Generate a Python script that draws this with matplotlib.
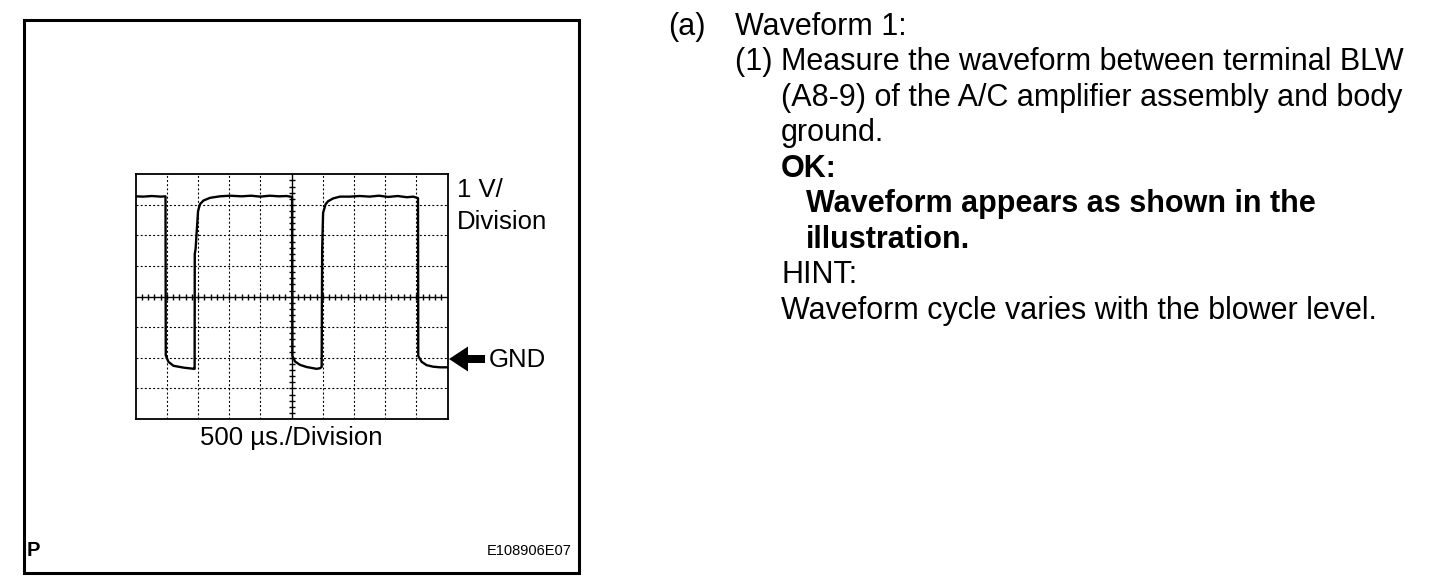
import matplotlib
matplotlib.use("Agg")
import matplotlib.pyplot as plt
from matplotlib.patches import Rectangle, FancyArrow
from matplotlib.transforms import Affine2D

# waveform: time in microseconds, level in volts (GND = 0)
time_us = [0, 120, 260, 400, 478, 482, 525, 605, 765, 935, 945, 947, 960, 1000,
           1030, 1085, 1190, 1350, 1510, 1700, 1850, 2000, 2150, 2300, 2420, 2508,
           2512, 2555, 2635, 2740, 2900, 2955, 2982, 2990, 3005, 3045, 3085, 3165,
           3275, 3435, 3595, 3750, 3900, 4050, 4200, 4350, 4450, 4527, 4531, 4585,
           4665, 4770, 4880, 5000]
volts = [5.28, 5.27, 5.29, 5.27, 5.28, 0.08, -0.13, -0.26, -0.32, -0.36, -0.36, 3.40,
         3.55, 4.80, 5.02, 5.14, 5.23, 5.28, 5.30, 5.28, 5.30, 5.27, 5.30, 5.28, 5.29,
         5.26, 0.06, -0.12, -0.23, -0.30, -0.36, -0.34, -0.30, 3.54, 4.74, 5.02, 5.12,
         5.21, 5.27, 5.27, 5.29, 5.27, 5.30, 5.26, 5.29, 5.25, 5.27, 5.22, 0.06, -0.13,
         -0.24, -0.29, -0.31, -0.31]

t_div = 500      # us per division
v_div = 1        # V per division
n_tdiv = 10
v_min, v_max = -2, 6
centre_t = 2500
centre_v = 2

right_lines = [
    ("(a)", 668, 27, "normal"),
    ("Waveform 1:", 735, 27, "normal"),
    ("(1) Measure the waveform between terminal BLW", 735, 62, "normal"),
    ("(A8-9) of the A/C amplifier assembly and body", 781, 98, "normal"),
    ("ground.", 781, 133, "normal"),
    ("OK:", 781, 169, "bold"),
    ("Waveform appears as shown in the", 806, 204, "bold"),
    ("illustration.", 806, 240, "bold"),
    ("HINT:", 781, 275, "normal"),
    ("Waveform cycle varies with the blower level.", 781, 311, "normal"),
]

W, H = 1456, 586
plt.rcParams["font.family"] = ["Liberation Sans", "DejaVu Sans"]
plt.rcParams["lines.scale_dashes"] = False

fig = plt.figure(figsize=(W / 100, H / 100), dpi=100)
px = Affine2D().scale(1 / W, -1 / H).translate(0, 1) + fig.transFigure

# outer frame of the illustration
fig.patches.append(Rectangle((23.5, 19.5), 555, 553, transform=px, fill=False,
                             lw=2.2, ec="black"))

ax = fig.add_axes([135.7 / W, 1 - 419 / H, 311.8 / W, 244.7 / H])
ax.set_xlim(0, t_div * n_tdiv)
ax.set_ylim(v_min, v_max)
ax.set_xticks([])
ax.set_yticks([])
for s in ax.spines.values():
    s.set_linewidth(1.3)

for k in range(1, n_tdiv):
    t = k * t_div
    if t == centre_t:
        ax.axvline(t, color="black", lw=1.0)
    else:
        ax.axvline(t, color="black", lw=0.8, linestyle=(0, (1.4, 1.6)))
for v in range(v_min + 1, v_max):
    if v == centre_v:
        ax.axhline(v, color="black", lw=1.0)
    else:
        ax.axhline(v, color="black", lw=0.8, linestyle=(0, (1.4, 1.6)))

# small division ticks on the centre cross
minor_t = [k * t_div / 5 for k in range(1, n_tdiv * 5)]
minor_v = [v_min + k * v_div / 5 for k in range(1, (v_max - v_min) * 5)]
ax.plot(minor_t, [centre_v] * len(minor_t), ls="none", marker="|", ms=4.5,
        mew=1.0, color="black")
ax.plot([centre_t] * len(minor_v), minor_v, ls="none", marker="_", ms=4.5,
        mew=1.0, color="black")

ax.plot(time_us, volts, color="black", lw=1.7, solid_joinstyle="round")

# labels around the scope
fig.text(457, 190, "1 V/", transform=px, fontsize=18.5, va="center", ha="left")
fig.text(457, 222, "Division", transform=px, fontsize=18.5, va="center", ha="left")
fig.text(489, 360, "GND", transform=px, fontsize=18.5, va="center", ha="left")
fig.text(291, 438, "500 \u00b5s./Division", transform=px, fontsize=18.5,
         va="center", ha="center")
fig.patches.append(FancyArrow(485, 359, -36, 0, width=8, head_width=25,
                              head_length=19, length_includes_head=True,
                              transform=px, color="black", lw=0))
fig.text(27, 551, "P", transform=px, fontsize=14.5, fontweight="bold",
         va="center", ha="left")
fig.text(572, 551, "E108906E07", transform=px, fontsize=10.5, va="center",
         ha="right")

for txt, x, y, weight in right_lines:
    fig.text(x, y, txt, transform=px, fontsize=22, fontweight=weight,
             va="center", ha="left")

fig.savefig("out.png", dpi=100)
